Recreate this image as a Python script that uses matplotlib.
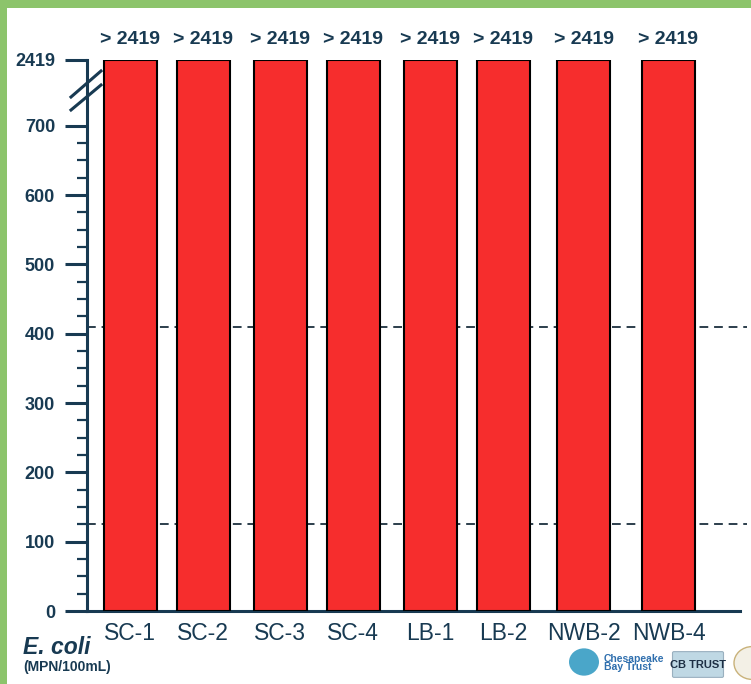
import numpy as np
import matplotlib
matplotlib.use('Agg')
import matplotlib.pyplot as plt
from matplotlib.patches import Rectangle, Circle, FancyBboxPatch
from matplotlib.lines import Line2D

plt.rcParams['font.family'] = ['Liberation Sans', 'DejaVu Sans']

# Sample sites and E. coli counts (MPN/100mL); all over the test's upper limit
sites = ['SC-1', 'SC-2', 'SC-3', 'SC-4', 'LB-1', 'LB-2', 'NWB-2', 'NWB-4']
ecoli = [2419, 2419, 2419, 2419, 2419, 2419, 2419, 2419]
value_labels = ['> 2419'] * 8
site_pos = [0, 0.95, 1.95, 2.9, 3.9, 4.85, 5.9, 7.0]

# Reference lines: single-sample max and geometric mean thresholds
thresholds = [410, 126]

major_ticks = [0, 100, 200, 300, 400, 500, 600, 700, 2419]
minor_ticks = [t for t in range(0, 701, 25) if t % 100 != 0]

NAVY = '#183a52'
RED = '#f62d2d'
GREEN = '#8cc46b'

BREAK = 700
TOP = 2419
SQUEEZE = 95.0 / (TOP - BREAK)


def fwd(y):
    y = np.asarray(y, dtype=float)
    return np.where(y <= BREAK, y, BREAK + (y - BREAK) * SQUEEZE)


def inv(y):
    y = np.asarray(y, dtype=float)
    return np.where(y <= BREAK, y, BREAK + (y - BREAK) / SQUEEZE)


W, H = 751, 684
fig = plt.figure(figsize=(W / 100, H / 100), dpi=100)
fig.patch.set_facecolor('white')

ax = fig.add_axes([87 / W, 73 / H, 653 / W, 551 / H])
ax.set_yscale('function', functions=(fwd, inv))
ax.set_ylim(0, TOP)
ax.set_xlim(-0.56, 7.93)
ax.set_facecolor('none')

for thr in thresholds:
    ax.axhline(thr, xmin=0, xmax=1.01, color='#2c3e4c', lw=1.4,
               linestyle=(0, (4.5, 3)), zorder=1, clip_on=False)

ax.bar(site_pos, ecoli, width=0.69, color=RED, edgecolor='black',
       linewidth=1.5, zorder=3)

for x, v, lab in zip(site_pos, ecoli, value_labels):
    ax.annotate(lab, (x, v), xytext=(0, 9), textcoords='offset points',
                ha='center', va='bottom', fontsize=14, fontweight='bold',
                color=NAVY)

for side in ['top', 'right']:
    ax.spines[side].set_visible(False)
for side in ['left', 'bottom']:
    ax.spines[side].set_color(NAVY)
    ax.spines[side].set_linewidth(2.2)

ax.set_yticks(major_ticks)
ax.set_yticklabels([str(t) for t in major_ticks])
ax.set_yticks(minor_ticks, minor=True)
ax.tick_params(axis='y', which='major', length=16, width=2.2, color=NAVY,
               labelsize=13, labelcolor=NAVY, pad=7)
ax.tick_params(axis='y', which='minor', length=7, width=1.6, color=NAVY)
for lbl in ax.get_yticklabels():
    lbl.set_fontweight('bold')

ax.set_xticks(site_pos)
ax.set_xticklabels(sites)
ax.tick_params(axis='x', length=0, labelsize=16.5, labelcolor=NAVY, pad=8)

# axis break marks
for y0, y1 in [(97, 71), (110, 85)]:
    fig.add_artist(Line2D([71 / W, 101 / W], [1 - y0 / H, 1 - y1 / H],
                          transform=fig.transFigure, color=NAVY, lw=2.2))

fig.text(23 / W, 1 - 654 / H, 'E. coli', fontsize=16.5, fontweight='bold',
         fontstyle='italic', color=NAVY, ha='left', va='baseline')
fig.text(23 / W, 1 - 671 / H, '(MPN/100mL)', fontsize=10, fontweight='bold',
         color=NAVY, ha='left', va='baseline')

# sponsor marks
fig.add_artist(Circle((584 / W, 1 - 662 / H), 15 / W, transform=fig.transFigure,
                      facecolor='#4aa6c9', edgecolor='none'))
fig.text(604 / W, 1 - 663 / H, 'Chesapeake\nBay Trust', fontsize=7.5,
         fontweight='bold', color='#2f6fae', ha='left', va='center',
         linespacing=0.85)
fig.add_artist(FancyBboxPatch((674 / W, 1 - 676 / H), 48 / W, 23 / H,
                              boxstyle='round,pad=0.002', transform=fig.transFigure,
                              facecolor='#bfd8e4', edgecolor='#9ab0bf', lw=0.8))
fig.text(698 / W, 1 - 665 / H, 'CB TRUST', fontsize=8, fontweight='bold',
         color='#1d2f44', ha='center', va='center', stretch='condensed')
fig.add_artist(Circle((752 / W, 1 - 663 / H), 18 / W, transform=fig.transFigure,
                      facecolor='#f3f0e6', edgecolor='#c9b27a', lw=1))

# frame
fig.add_artist(Rectangle((0, 0), 7 / W, 1, transform=fig.transFigure,
                         facecolor=GREEN, edgecolor='none'))
fig.add_artist(Rectangle((0, 1 - 8 / H), 1, 8 / H, transform=fig.transFigure,
                         facecolor=GREEN, edgecolor='none'))

fig.savefig('out.png', dpi=100)
